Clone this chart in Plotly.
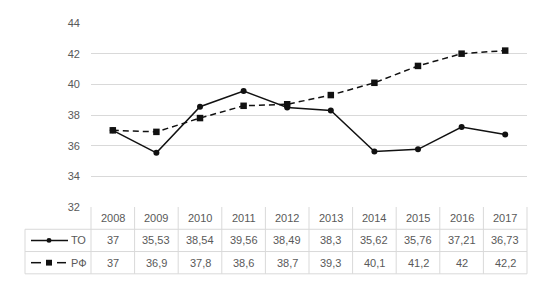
import plotly.graph_objects as go

years = ["2008", "2009", "2010", "2011", "2012", "2013", "2014", "2015", "2016", "2017"]
to_vals = [37, 35.53, 38.54, 39.56, 38.49, 38.3, 35.62, 35.76, 37.21, 36.73]
rf_vals = [37, 36.9, 37.8, 38.6, 38.7, 39.3, 40.1, 41.2, 42, 42.2]
series_names = ["ТО", "РФ"]
y_ticks = [32, 34, 36, 38, 40, 42, 44]

OFF = 8  # page body margin (left/top)
W, H = 542 - OFF, 286 - OFF
ML, MR, MT, MB = 91 - OFF, 15, 17 - OFF, 79
PW = W - ML - MR
PH = H - MT - MB
n = len(years)
GRID = "#d9d9d9"
TXT = "#595959"
FONT = "Liberation Sans"

def px_to_paper_x(px):
    return (px - OFF - ML) / PW

def py_to_paper_y(py):
    return (H - MB - (py - OFF)) / PH

x_idx = list(range(n))
fig = go.Figure()
fig.add_trace(go.Scatter(x=x_idx, y=to_vals, mode="lines+markers", name=series_names[0],
                         line=dict(color="#111111", width=1.5),
                         marker=dict(symbol="circle", size=6, color="#111111"),
                         showlegend=False, cliponaxis=False))
fig.add_trace(go.Scatter(x=x_idx, y=rf_vals, mode="lines+markers", name=series_names[1],
                         line=dict(color="#111111", width=1.5, dash="6px,4px"),
                         marker=dict(symbol="square", size=6.5, color="#111111"),
                         showlegend=False, cliponaxis=False))

shapes = []
annotations = []
row_y = [207, 230, 253, 276]  # pixel boundaries (reference)
ry = [py_to_paper_y(v) for v in row_y]
label_left = px_to_paper_x(25)

line_style = dict(color=GRID, width=1)
for k in (1, 2, 3):
    shapes.append(dict(type="line", xref="paper", yref="paper", x0=label_left, x1=1,
                       y0=ry[k], y1=ry[k], line=line_style))
for i in range(n + 1):
    shapes.append(dict(type="line", xref="paper", yref="paper", x0=i / n, x1=i / n,
                       y0=ry[0], y1=ry[3], line=line_style))
shapes.append(dict(type="line", xref="paper", yref="paper", x0=label_left, x1=label_left,
                   y0=ry[1], y1=ry[3], line=line_style))

def fmt(v):
    return f"{v:g}".replace(".", ",")

tfont = dict(size=11, color=TXT, family=FONT)
for i in range(n):
    xc = (i + 0.5) / n
    for text, yc in ((years[i], (ry[0] + ry[1]) / 2),
                     (fmt(to_vals[i]), (ry[1] + ry[2]) / 2),
                     (fmt(rf_vals[i]), (ry[2] + ry[3]) / 2)):
        annotations.append(dict(x=xc, y=yc, xref="paper", yref="paper", xanchor="center", yanchor="middle",
                                text=text, showarrow=False, font=tfont))

for r, (name, dash) in enumerate([(series_names[0], "solid"), (series_names[1], "dash")]):
    yc = (ry[1 + r] + ry[2 + r]) / 2
    if dash == "solid":
        shapes.append(dict(type="line", xref="paper", yref="paper", x0=px_to_paper_x(31), x1=px_to_paper_x(68),
                           y0=yc, y1=yc, line=dict(color="#111111", width=1.5)))
        shapes.append(dict(type="circle", xref="paper", yref="paper",
                           x0=px_to_paper_x(46.5), x1=px_to_paper_x(51.5),
                           y0=yc - 2.5 / PH, y1=yc + 2.5 / PH,
                           fillcolor="#111111", line=dict(color="#111111", width=0)))
    else:
        shapes.append(dict(type="line", xref="paper", yref="paper", x0=px_to_paper_x(31), x1=px_to_paper_x(41),
                           y0=yc, y1=yc, line=dict(color="#111111", width=1.5)))
        shapes.append(dict(type="line", xref="paper", yref="paper", x0=px_to_paper_x(57), x1=px_to_paper_x(66),
                           y0=yc, y1=yc, line=dict(color="#111111", width=1.5)))
        shapes.append(dict(type="rect", xref="paper", yref="paper",
                           x0=px_to_paper_x(46), x1=px_to_paper_x(52),
                           y0=yc - 3 / PH, y1=yc + 3 / PH,
                           fillcolor="#111111", line=dict(color="#111111", width=0)))
    annotations.append(dict(x=px_to_paper_x(69), y=yc, xref="paper", yref="paper", xanchor="left",
                            yanchor="middle", text=name, showarrow=False, font=tfont))

fig.update_layout(
    width=W, height=H,
    margin=dict(l=ML, r=MR, t=MT, b=MB),
    paper_bgcolor="white", plot_bgcolor="white",
    xaxis=dict(range=[-0.5, n - 0.5], showticklabels=False, showgrid=False, zeroline=False,
               showline=False, fixedrange=True),
    yaxis=dict(range=[32, 44], tickvals=y_ticks, ticktext=[str(v) for v in y_ticks],
               showgrid=True, gridcolor=GRID, gridwidth=1, zeroline=False, showline=False,
               tickfont=tfont, ticklabelstandoff=10),
    shapes=shapes, annotations=annotations,
    font=dict(family=FONT),
)
fig.write_html("out.html")
